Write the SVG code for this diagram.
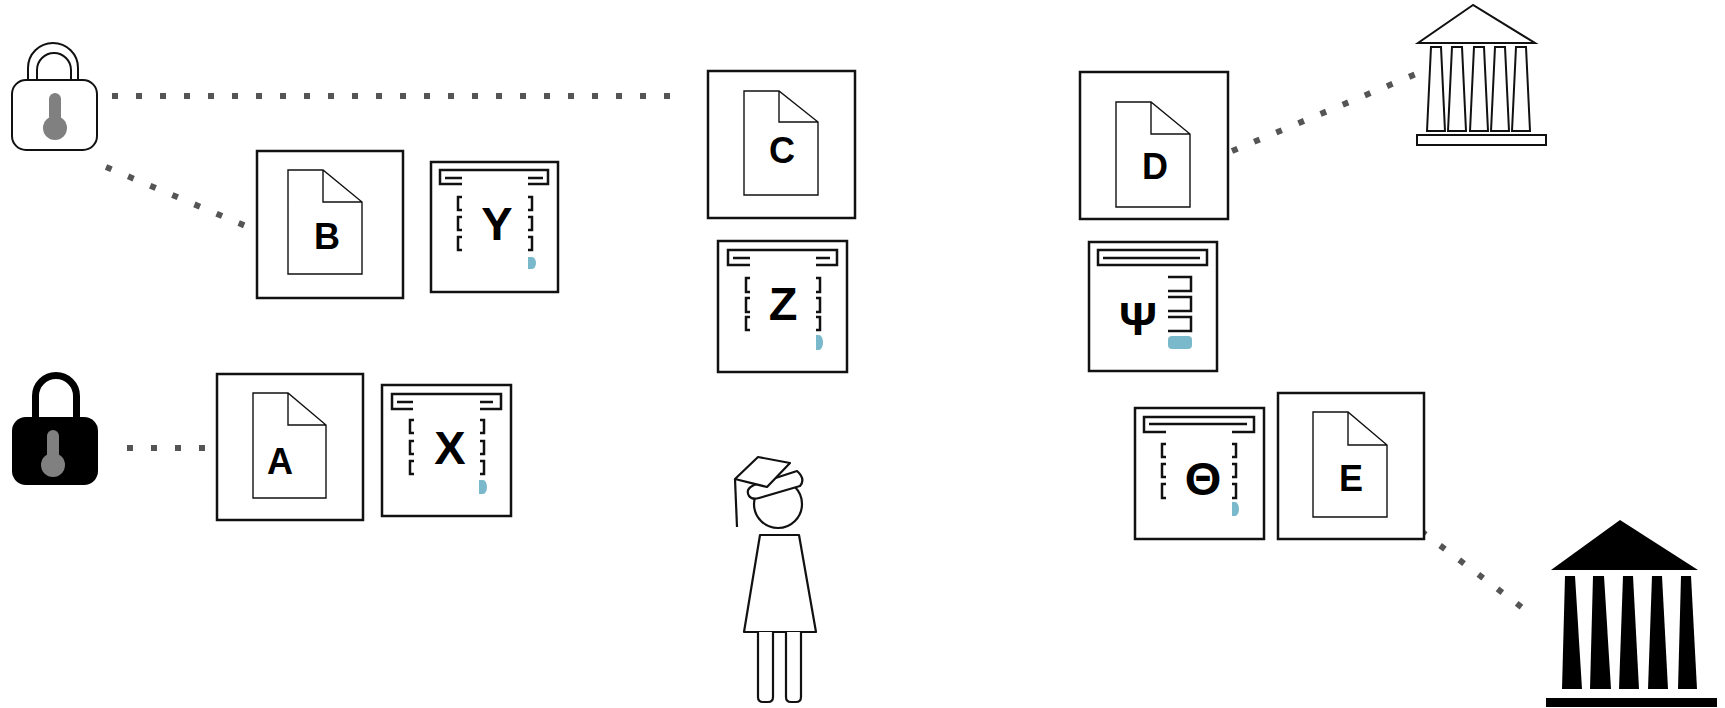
<svg xmlns="http://www.w3.org/2000/svg" width="1725" height="708" viewBox="0 0 1725 708">
  <style>
    .frame { fill: #fff; stroke: #111; stroke-width: 2.5; }
    .doc { fill: #fff; stroke: #111; stroke-width: 1.4; stroke-linejoin: miter; }
    .line { fill: none; stroke: #111; stroke-width: 2.5; }
    .thin { fill: none; stroke: #111; stroke-width: 2; }
    .tab { fill: #7ab8cb; stroke: none; }
    .lbl { font-family: "Liberation Sans", Arial, sans-serif; font-weight: bold; fill: #000; text-anchor: middle; }
    .doclbl { font-size: 36px; }
    .formlbl { font-size: 47px; }
    .dots { fill: none; stroke: #555; stroke-width: 6; stroke-dasharray: 6 18; }
    .key { fill: #808080; }
  </style>

  <!-- dotted connectors -->
  <g id="connectors">
    <line class="dots" x1="112" y1="96" x2="676" y2="96"/>
    <line class="dots" x1="106" y1="167" x2="248" y2="227"/>
    <line class="dots" x1="127" y1="448" x2="210" y2="448"/>
    <line class="dots" x1="1232" y1="151" x2="1416" y2="74"/>
    <line class="dots" x1="1421" y1="531" x2="1524" y2="609"/>
  </g>

  <!-- open padlock -->
  <g id="lock-open">
    <path class="thin" d="M28 82 V68 A25 25 0 0 1 78 68 V82"/>
    <path class="thin" d="M37 82 V70 A17 17 0 0 1 71 70 V82"/>
    <rect x="12" y="80" width="85" height="70" rx="14" fill="#fff" stroke="#111" stroke-width="2"/>
    <rect class="key" x="49" y="93" width="12" height="36" rx="6"/>
    <circle class="key" cx="55" cy="128" r="12"/>
  </g>

  <!-- closed padlock -->
  <g id="lock-closed">
    <path fill="none" stroke="#000" stroke-width="7" d="M35.5 420 V396 A20.5 20.5 0 0 1 76.5 396 V420"/>
    <rect x="12" y="417" width="86" height="68" rx="14" fill="#000"/>
    <rect class="key" x="47" y="430" width="12" height="36" rx="6"/>
    <circle class="key" cx="53" cy="465" r="12"/>
  </g>

  <!-- document B -->
  <g id="doc-b">
    <rect class="frame" x="257" y="151" width="146" height="147"/>
    <path class="doc" d="M288 170 H323 L362 202 V274 H288 Z M323 170 V202 H362"/>
    <text class="lbl doclbl" x="327" y="249">B</text>
  </g>

  <!-- form Y -->
  <g id="form-y">
    <rect class="frame" x="431" y="162" width="127" height="130"/>
    <path class="line" d="M462 184 H440 V170 H548 V184 H528 M445 178 H462 M528 178 H543"/>
    <path class="line" d="M462 197 H458 V210 H462 M462 217 H458 V230 H462 M462 237 H458 V250 H462"/>
    <path class="line" d="M528 197 H532 V210 H528 M528 217 H532 V230 H528 M528 237 H532 V250 H528"/>
    <text class="lbl formlbl" x="497" y="240">Y</text>
    <path class="tab" d="M528 257 H532 A4 6 0 0 1 532 269 H528 Z"/>
  </g>

  <!-- document A -->
  <g id="doc-a">
    <rect class="frame" x="217" y="374" width="146" height="146"/>
    <path class="doc" d="M253 393 H288 L326 425 V498 H253 Z M288 393 V425 H326"/>
    <text class="lbl doclbl" x="280" y="474">A</text>
  </g>

  <!-- form X -->
  <g id="form-x">
    <rect class="frame" x="382" y="385" width="129" height="131"/>
    <path class="line" d="M413 409 H392 V394 H501 V409 H480 M397 402 H413 M480 402 H493"/>
    <path class="line" d="M414 420 H410 V433 H414 M414 441 H410 V454 H414 M414 461 H410 V474 H414"/>
    <path class="line" d="M480 420 H484 V433 H480 M480 441 H484 V454 H480 M480 461 H484 V474 H480"/>
    <text class="lbl formlbl" x="450" y="464">X</text>
    <path class="tab" d="M479 480 H483 A4 7 0 0 1 483 494 H479 Z"/>
  </g>

  <!-- document C -->
  <g id="doc-c">
    <rect class="frame" x="708" y="71" width="147" height="147"/>
    <path class="doc" d="M744 91 H779 L818 122 V195 H744 Z M779 91 V122 H818"/>
    <text class="lbl doclbl" x="782" y="163">C</text>
  </g>

  <!-- form Z -->
  <g id="form-z">
    <rect class="frame" x="718" y="241" width="129" height="131"/>
    <path class="line" d="M750 265 H728 V250 H837 V265 H816 M733 258 H750 M816 258 H830"/>
    <path class="line" d="M750 278 H746 V292 H750 M750 298 H746 V312 H750 M750 317 H746 V330 H750"/>
    <path class="line" d="M816 278 H820 V292 H816 M816 298 H820 V312 H816 M816 317 H820 V330 H816"/>
    <text class="lbl formlbl" x="783" y="320">Z</text>
    <path class="tab" d="M816 335 H819 A4 7.5 0 0 1 819 350 H816 Z"/>
  </g>

  <!-- document D -->
  <g id="doc-d">
    <rect class="frame" x="1080" y="72" width="148" height="147"/>
    <path class="doc" d="M1116 102 H1151 L1190 134 V207 H1116 Z M1151 102 V134 H1190"/>
    <text class="lbl doclbl" x="1155" y="179">D</text>
  </g>

  <!-- form Psi -->
  <g id="form-psi">
    <rect class="frame" x="1089" y="242" width="128" height="129"/>
    <rect class="line" x="1098" y="250" width="109" height="15"/>
    <path class="line" d="M1103 258 H1200"/>
    <path class="line" d="M1168 277 H1191 V291 H1168 M1168 297 H1191 V311 H1168 M1168 317 H1191 V331 H1168"/>
    <text class="lbl formlbl" x="1138" y="335">Ψ</text>
    <rect class="tab" x="1168" y="336" width="24" height="13" rx="4"/>
  </g>

  <!-- form Theta -->
  <g id="form-theta">
    <rect class="frame" x="1135" y="408" width="129" height="131"/>
    <path class="line" d="M1166 432 H1144 V417 H1254 V432 H1232 M1149 424 H1247"/>
    <path class="line" d="M1166 444 H1162 V457 H1166 M1166 464 H1162 V477 H1166 M1166 484 H1162 V498 H1166"/>
    <path class="line" d="M1232 444 H1236 V457 H1232 M1232 464 H1236 V477 H1232 M1232 484 H1236 V498 H1232"/>
    <text class="lbl formlbl" x="1203" y="495">Θ</text>
    <path class="tab" d="M1232 502 H1235 A4 7 0 0 1 1235 516 H1232 Z"/>
  </g>

  <!-- document E -->
  <g id="doc-e">
    <rect class="frame" x="1278" y="393" width="146" height="146"/>
    <path class="doc" d="M1313 412 H1348 L1387 445 V517 H1313 Z M1348 412 V445 H1387"/>
    <text class="lbl doclbl" x="1351" y="491">E</text>
  </g>

  <!-- graduate figure -->
  <g id="graduate" fill="#fff" stroke="#111" stroke-width="2.2" stroke-linejoin="round">
    <circle cx="778" cy="504" r="24"/>
    <path d="M754 485 Q745 489 749 496 Q752 500 759 498 L800 486 Q806 479 797 471 Z"/>
    <path d="M735 479 L758 457 L790 463 L767 487 Z"/>
    <path fill="none" d="M735 479 L737 527"/>
    <path d="M760 535 H799 L816 632 H744 Z"/>
    <path d="M758 632 V697 Q758 702 763 702 H768 Q773 702 773 697 V632"/>
    <path d="M786 632 V697 Q786 702 791 702 H796 Q801 702 801 697 V632"/>
  </g>

  <!-- outlined institution -->
  <g id="institution-outline" fill="#fff" stroke="#111" stroke-width="2">
    <path d="M1473 5 L1418 43 H1535 Z"/>
    <path d="M1431 47 H1441 L1445 131 H1427 Z"/>
    <path d="M1452 47 H1462 L1466 131 H1448 Z"/>
    <path d="M1474 47 H1484 L1488 131 H1470 Z"/>
    <path d="M1495 47 H1505 L1509 131 H1491 Z"/>
    <path d="M1516 47 H1526 L1530 131 H1512 Z"/>
    <rect x="1417" y="135" width="129" height="10"/>
  </g>

  <!-- filled institution -->
  <g id="institution-filled" fill="#000">
    <path d="M1620 520 L1551 570 H1698 Z"/>
    <path d="M1565 576 H1575 L1582 689 H1562 Z"/>
    <path d="M1593 576 H1604 L1611 689 H1590 Z"/>
    <path d="M1623 576 H1633 L1639 689 H1619 Z"/>
    <path d="M1652 576 H1662 L1668 689 H1648 Z"/>
    <path d="M1681 576 H1691 L1697 689 H1678 Z"/>
    <rect x="1546" y="698" width="171" height="9"/>
  </g>
</svg>
